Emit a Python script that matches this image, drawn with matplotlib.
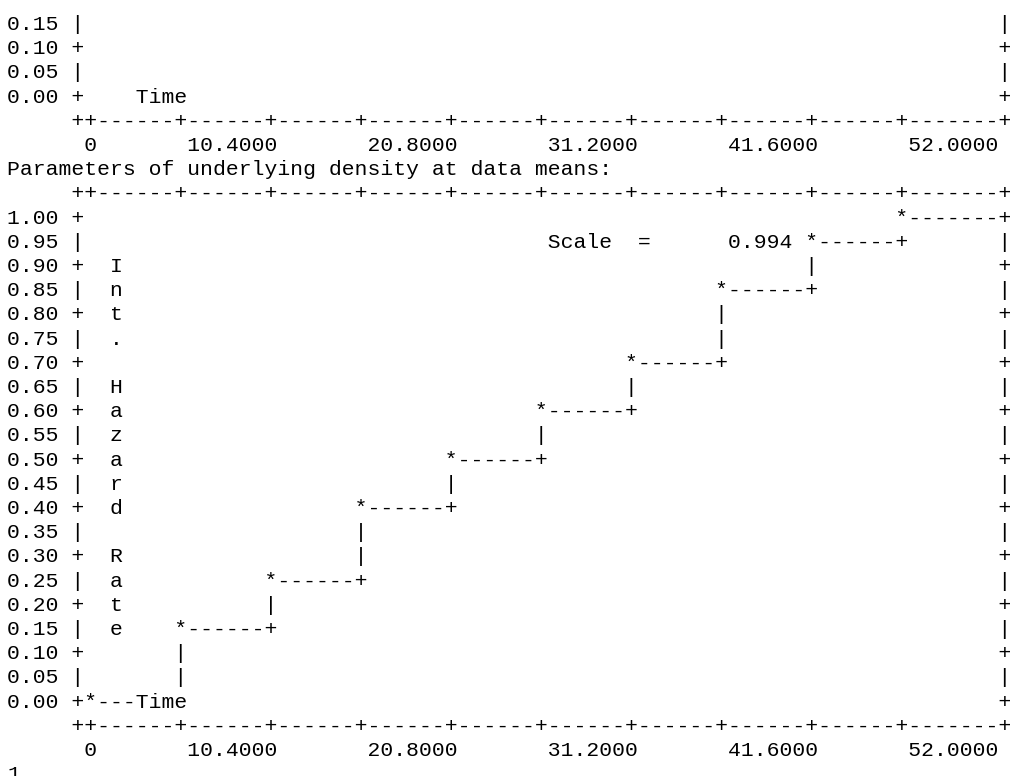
#!/usr/bin/env python3
"""
Character plot of the integrated hazard step function,
laid out on a monospaced grid and rendered as text lines.
"""

import matplotlib
matplotlib.use('Agg')
import matplotlib.pyplot as plt

# Step function: interval start times and integrated hazard rate on each interval
step_times = [0.0, 5.2, 10.4, 15.6, 20.8, 26.0, 31.2, 36.4, 41.6, 46.8]
hazard = [0.00, 0.15, 0.25, 0.40, 0.50, 0.60, 0.70, 0.85, 0.95, 1.00]
t_end = 52.0
x_minor = 5.2

x_ticks = [0.0, 10.4, 20.8, 31.2, 41.6, 52.0]
x_tick_labels = ['0', '10.4000', '20.8000', '31.2000', '41.6000', '52.0000']

# last rows of the panel printed above
upper_y_ticks = [0.15, 0.10, 0.05, 0.00]
lower_y_ticks = [1.00, 0.95, 0.90, 0.85, 0.80, 0.75, 0.70, 0.65, 0.60, 0.55,
                 0.50, 0.45, 0.40, 0.35, 0.30, 0.25, 0.20, 0.15, 0.10, 0.05, 0.00]
y_step = 0.05

scale_value = 0.994
x_label = 'Time'
y_label = 'Int. Hazard Rate'
header = 'Parameters of underlying density at data means:'
footer = '1'

# grid geometry (character columns)
WIDTH = 78
LEFT = 5
ORIGIN = 6
RIGHT = 77
COLS_PER_UNIT = 14 / 10.4


def col_of(t):
    return ORIGIN + int(round(t * COLS_PER_UNIT))


def put(line, col, s):
    line[col:col + len(s)] = list(s)


def blank():
    return [' '] * WIDTH


def panel_rows(y_vals):
    rows = []
    for v in y_vals:
        ch = '+' if int(round(v / y_step)) % 2 == 0 else '|'
        line = blank()
        put(line, 0, f'{v:4.2f}')
        line[LEFT] = ch
        line[RIGHT] = ch
        rows.append(line)
    return rows


def axis_row():
    line = blank()
    for c in range(LEFT, RIGHT + 1):
        line[c] = '-'
    k = 0
    while k * x_minor < t_end - 1e-9:
        line[col_of(k * x_minor)] = '+'
        k += 1
    line[LEFT] = '+'
    line[RIGHT] = '+'
    return line


def label_row():
    line = blank()
    for t, lab in zip(x_ticks, x_tick_labels):
        c = col_of(t)
        put(line, c - len(lab) + 1, lab)
    return line


# upper panel tail
upper = panel_rows(upper_y_ticks)
put(upper[-1], 10, x_label)

# lower panel with the step function
lower = panel_rows(lower_y_ticks)
top_val = lower_y_ticks[0]


def row_of(v):
    return int(round((top_val - v) / y_step))


n = len(step_times)
for i in range(n):
    c0 = col_of(step_times[i])
    c1 = col_of(step_times[i + 1]) if i + 1 < n else RIGHT
    r = row_of(hazard[i])
    lower[r][c0] = '*'
    for c in range(c0 + 1, c1):
        lower[r][c] = '-'
    lower[r][c1] = '+'
    if i + 1 < n:
        r_next = row_of(hazard[i + 1])
        for rr in range(r_next + 1, r):
            lower[rr][c1] = '|'

for k, ch in enumerate(y_label):
    lower[row_of(0.90) + k][8] = ch

put(lower[row_of(0.95)], 42, f'Scale  = {scale_value:10.3f}')
put(lower[row_of(0.00)], 10, x_label)

lines = upper + [axis_row(), label_row()]
lines.append(list(header))
lines.append(axis_row())
lines += lower
lines += [axis_row(), label_row(), list(footer)]

# render
fig = plt.figure(figsize=(10.10, 7.76), dpi=100)
fig.patch.set_facecolor('white')
H = 776.0
W = 1010.0
line_h = 24.2
base0 = 30.0
x0 = 7.4

for k, line in enumerate(lines):
    s = ''.join(line).rstrip()
    y = 1 - (base0 + k * line_h) / H
    fig.text(x0 / W, y, s, fontfamily='Liberation Mono', fontsize=15.42,
             color='black', ha='left', va='baseline')

plt.savefig('out.png', dpi=100, facecolor='white')
plt.close()
